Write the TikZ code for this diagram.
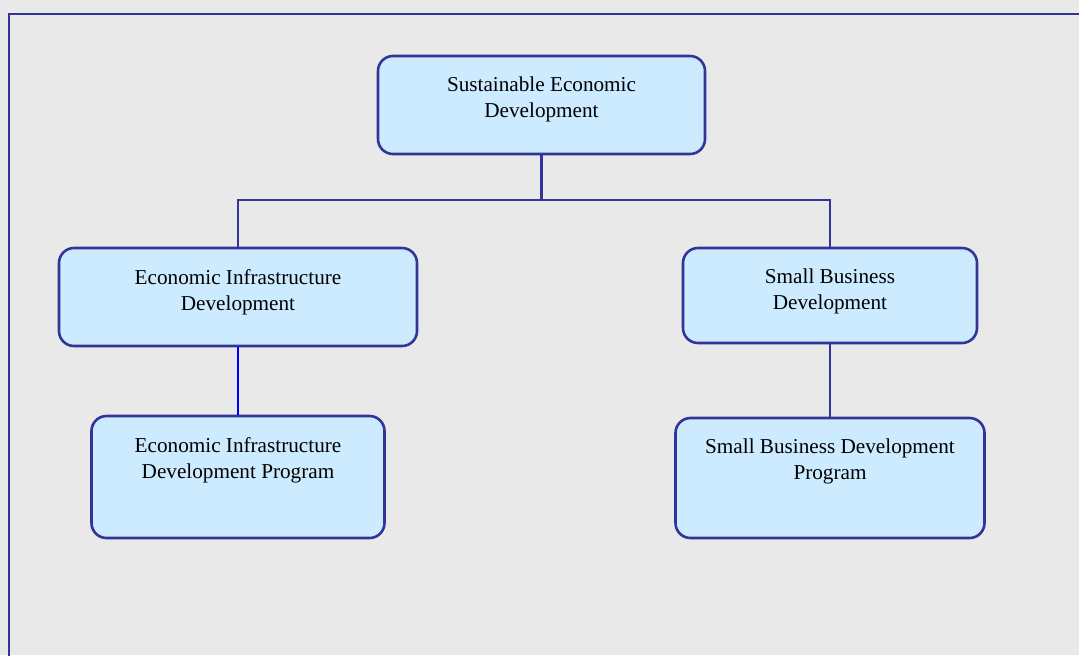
\documentclass[tikz,border=0pt]{standalone}
\usepackage{fontspec}
\setmainfont{Liberation Serif}
\usetikzlibrary{positioning}
\definecolor{framecol}{HTML}{333399}
\definecolor{boxfill}{HTML}{CCEBFF}
\definecolor{backcol}{HTML}{E9E9E9}
\definecolor{brightlink}{HTML}{0000FF}
\begin{document}
\begin{tikzpicture}
[x=0.5pt,y=-0.5pt,
  boxdecorate/.style={shape=rectangle,rounded corners=7.5pt,draw=framecol,
    fill=boxfill,line width=1.3pt,inner sep=0pt},%
  textdecorate/.style={align=center,inner sep=0pt,
    font=\fontsize{10.6}{13}\selectfont},%
  linkdecorate/.style={-,draw=framecol,line width=1.3pt}]
\useasboundingbox[fill=backcol] (0,0) rectangle (1079,655);
%% outer frame
\draw[framecol,line width=1.3pt] (1085,14) -- (9,14) -- (9,660);
%% boxes
\foreach \boxname/\x/\y/\w/\h/\boxtext in {
  sed/541.5/105/163.5/49/{Sustainable Economic\\Development},
  eid/238/297/179/49/{Economic Infrastructure\\Development},
  sbd/830/295.5/147/47.5/{Small Business\\Development},
  eidp/238/477/146.5/61/{Economic Infrastructure\\Development Program},
  sbdp/830/478/154.5/60/{Small Business Development\\Program}} {
  \node (\boxname) at (\x,\y) [boxdecorate,minimum width=\w pt,minimum height=\h pt] {};
  \node [textdecorate,below=11pt of \boxname.north] {\boxtext};
}
%% connectors
\coordinate (hub) at (541.5,200);
\draw[linkdecorate] (sed.south) -- (hub);
\draw[linkdecorate] (eid.north) |- (hub) -| (sbd.north);
\draw[linkdecorate,draw=brightlink,line width=1pt] (eid.south) -- (eidp.north);
\draw[linkdecorate] (sbd.south) -- (sbdp.north);
\end{tikzpicture}
\end{document}
